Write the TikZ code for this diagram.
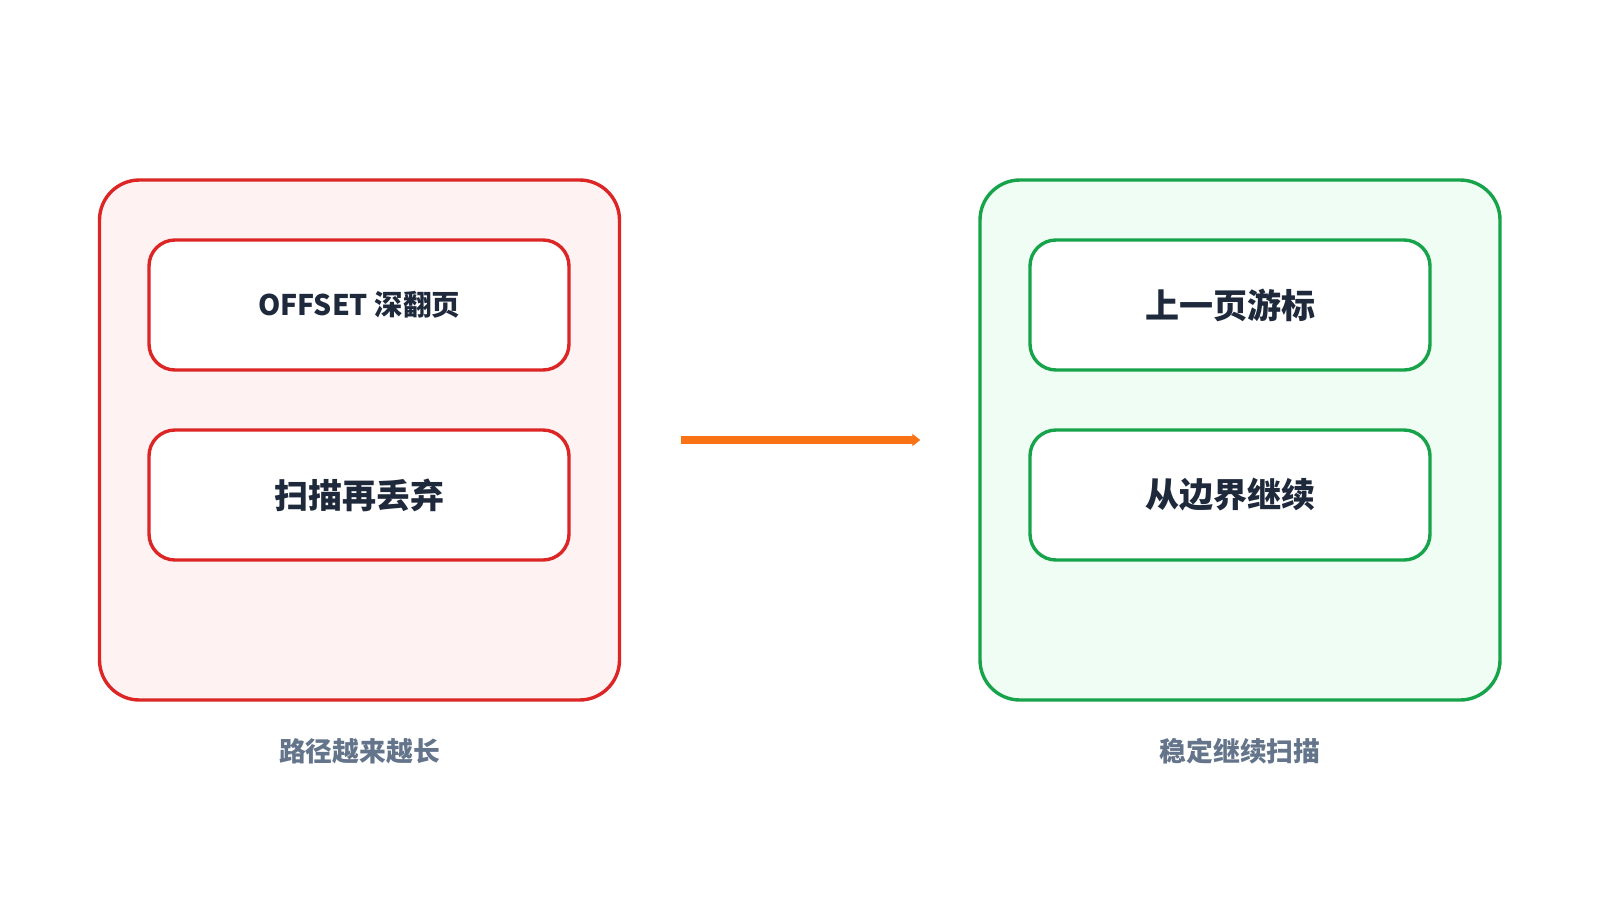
\documentclass[tikz,border=0pt]{standalone}
\usepackage{fontspec}
\setmainfont{Noto Sans CJK SC}
\usepackage{tikz}
\usetikzlibrary{arrows.meta,positioning}
\definecolor{redline}{HTML}{DC2626}
\definecolor{redfill}{HTML}{FEF2F2}
\definecolor{greenline}{HTML}{16A34A}
\definecolor{greenfill}{HTML}{F0FDF4}
\definecolor{ink}{HTML}{1E293B}
\definecolor{note}{HTML}{64748B}
\definecolor{flow}{HTML}{F97316}
\tikzset{
outer/.style={draw,line width=1.7pt,rounded corners=20pt,minimum width=260pt,minimum height=260pt},
inner/.style={draw,line width=1.7pt,rounded corners=13pt,fill=white,minimum height=65pt,text=ink,font=\bfseries\fontsize{17pt}{20pt}\selectfont},
caption/.style={text=note,font=\bfseries\fontsize{13.4pt}{16pt}\selectfont}
}
\begin{document}
\begin{tikzpicture}[x=0.5pt,y=-0.5pt]
\useasboundingbox (0,0) rectangle (1600,900);
\node[outer,draw=redline,fill=redfill] (L) at (359.5,440) {};
\node[outer,draw=greenline,fill=greenfill] (R) at (1240,440) {};
\node[inner,draw=redline,minimum width=210pt,font=\bfseries\fontsize{14.2pt}{17pt}\selectfont] (L1) at (359,305) {OFFSET 深翻页};
\node[inner,draw=redline,minimum width=210pt] (L2) at (359,495) {扫描再丢弃};
\node[inner,draw=greenline,minimum width=200pt] (R1) at (1230,305) {上一页游标};
\node[inner,draw=greenline,minimum width=200pt] (R2) at (1230,495) {从边界继续};
\node[caption] (LC) at (359.5,751) {路径越来越长};
\node[caption] (RC) at (1240,751) {稳定继续扫描};
\draw[flow,line width=4pt,-{Triangle[length=4pt,width=6pt]},shorten <=30pt,shorten >=29pt] (L.east) -- (R.west);
\end{tikzpicture}
\end{document}
